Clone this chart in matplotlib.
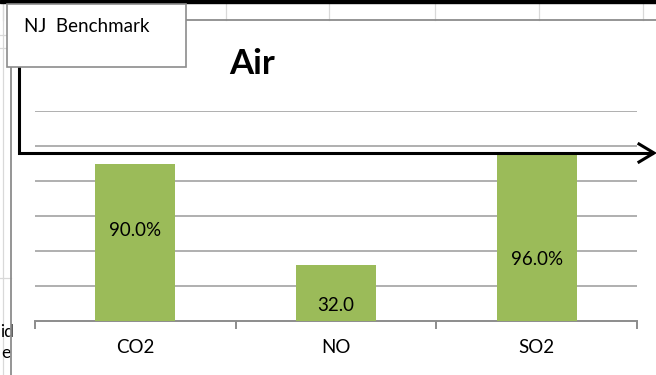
import matplotlib.pyplot as plt
from matplotlib.lines import Line2D
from matplotlib.patches import Rectangle

W, H = 656, 375

categories = ["CO2", "NO", "SO2"]
values = [90.0, 32.0, 96.0]
value_labels = ["90.0%", "32.0", "96.0%"]
y_max = 120
y_step = 20

plt.rcParams["font.family"] = ["Lato", "DejaVu Sans"]


def fx(x):
    return x / W


def fy(y):
    return 1 - y / H


def fig_line(fig, xs, ys, **kw):
    fig.add_artist(Line2D([fx(x) for x in xs], [fy(y) for y in ys],
                          transform=fig.transFigure, **kw))


fig = plt.figure(figsize=(W / 100, H / 100), dpi=100)
fig.patch.set_facecolor("white")

# sheet cells peeking around the chart
cell = "#d9d9d9"
for x in [3, 122, 226, 329, 435, 539, 643]:
    fig_line(fig, [x, x], [3, 20], color=cell, lw=0.9, zorder=1)
fig_line(fig, [3, 3], [0, H], color=cell, lw=0.9, zorder=1)
for y in [35, 48, 278]:
    fig_line(fig, [0, 11], [y, y], color=cell, lw=0.9, zorder=1)
fig.text(fx(0.5), fy(332), "id", ha="left", va="center", fontsize=12.5, zorder=1)
fig.text(fx(10), fy(353), "e", ha="right", va="center", fontsize=12.5, zorder=1)

# black band along the top edge
fig.add_artist(Rectangle((0, fy(3)), 1, 3 / H, transform=fig.transFigure,
                         color="black", zorder=2))

# chart area border
fig_line(fig, [11, 11], [20, H], color="#8c8c8c", lw=1.3, zorder=2)
fig_line(fig, [11, W], [20, 20], color="#8c8c8c", lw=1.3, zorder=2)

ax = fig.add_axes([fx(35), fy(321), (637 - 35) / W, (321 - 111) / H])
ax.set_facecolor("none")
x = list(range(len(categories)))
ax.bar(x, values, width=0.4, color="#9bbb59", zorder=3)
ax.set_xlim(-0.5, len(categories) - 0.5)
ax.set_ylim(0, y_max)

ax.set_yticks(range(y_step, y_max + 1, y_step))
ax.tick_params(axis="y", length=0, labelleft=False)
ax.grid(axis="y", color="#9a9a9a", lw=1.1, zorder=0)
ax.set_axisbelow(True)
for side in ["top", "right", "left"]:
    ax.spines[side].set_visible(False)
ax.spines["bottom"].set_color("#8c8c8c")
ax.spines["bottom"].set_linewidth(1.4)

ax.set_xticks([i - 0.5 for i in range(len(categories) + 1)])
ax.set_xticklabels([])
ax.tick_params(axis="x", which="major", length=6, width=1.4, color="#8c8c8c")
ax.set_xticks(x, minor=True)
ax.set_xticklabels(categories, minor=True, fontsize=13.5)
ax.tick_params(axis="x", which="minor", length=0, pad=13)

# data labels placed by hand inside the bars
label_pos = [52, 9, 35]
for i, (txt, yl) in enumerate(zip(value_labels, label_pos)):
    ax.text(i, yl, txt, ha="center", va="center", fontsize=13.5, zorder=4)

fig.text(fx(252), fy(64), "Air", ha="center", va="center",
         fontsize=25, fontweight="bold", zorder=5)

# benchmark arrow
fig_line(fig, [19, 19, 652], [65, 153, 153], color="black", lw=2.2,
         solid_joinstyle="miter", zorder=6)
fig_line(fig, [639, 654, 639], [144, 153, 162], color="black", lw=2.2,
         solid_joinstyle="miter", zorder=6)

fig.add_artist(Rectangle((fx(7), fy(67)), (186 - 7) / W, (67 - 4) / H,
                         transform=fig.transFigure, facecolor="white",
                         edgecolor="#8c8c8c", lw=1.2, zorder=7))
fig.text(fx(24), fy(27), "NJ  Benchmark", ha="left", va="center",
         fontsize=13.5, zorder=8)

fig.savefig("out.png", dpi=100)
